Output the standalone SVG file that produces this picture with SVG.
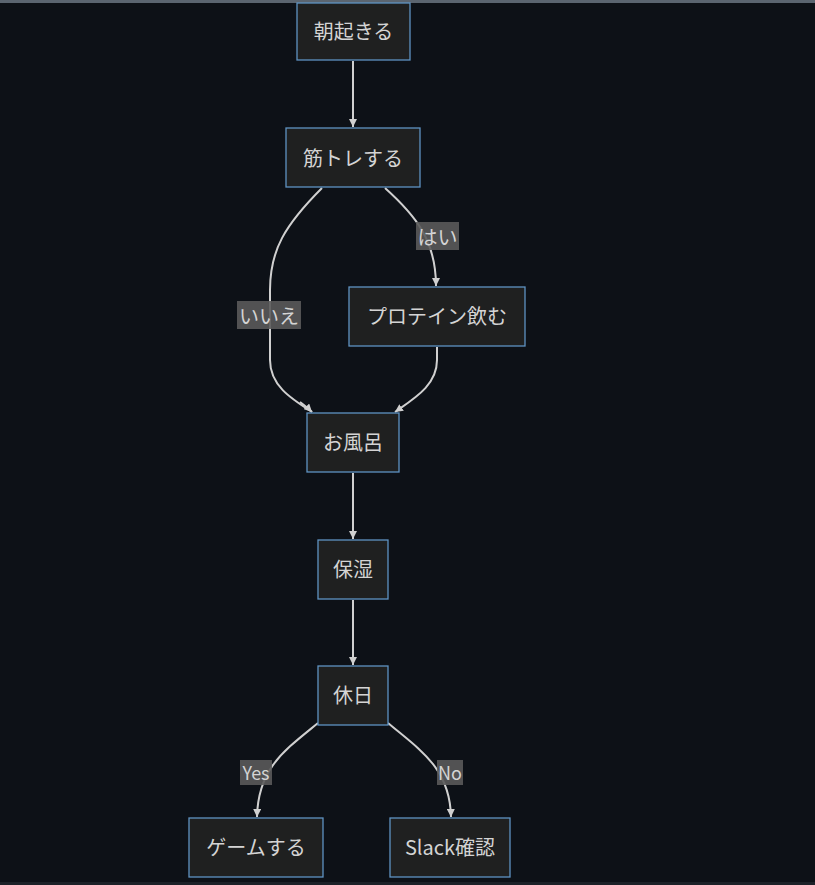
<svg xmlns="http://www.w3.org/2000/svg" width="815" height="885" viewBox="0 0 815 885">
<defs>
<marker id="ah" viewBox="0 0 10 10" refX="10" refY="5" markerWidth="8" markerHeight="8" markerUnits="userSpaceOnUse" orient="auto">
<path d="M0,0 L10,5 L0,10 z" fill="#d0d0d0"/>
</marker>
<style>
.n rect{fill:#1f2020;stroke:#5f93c2;stroke-width:1.3}
text{font-family:"Noto Sans CJK JP","Noto Sans",sans-serif;font-size:20px;fill:#d4d4d4;text-anchor:middle;dominant-baseline:central}
.e path{fill:none;stroke:#d0d0d0;stroke-width:2;marker-end:url(#ah)}
.l rect{fill:#5a5a5a;opacity:0.9}
</style>
</defs>
<rect width="815" height="885" fill="#0d1117"/>
<rect width="815" height="3" fill="#5b6570"/>
<rect y="882" width="815" height="3" fill="#1c2128"/>
<g class="e" id="connectors">
<path d="M353,61 L353,127"/>
<path d="M322,188 C285,225 270,250 270,290 L270,360 C270,385 290,398 312,412" style="marker-end:none"/>
<path d="M300,402 C304,405 308,408 312,412"/>
<path d="M385,188 C415,215 436,240 436,286"/>
<path d="M437,347 L437,360 C437,385 415,398 395,412"/>
<path d="M353,473 L353,539"/>
<path d="M353,600 L353,665"/>
<path d="M318,723 C285,750 258,768 257,817"/>
<path d="M388,723 C420,750 450,768 451,817"/>
</g>
<g class="l" id="labels">
<g><rect x="237" y="301" width="64" height="28"/><text x="269" y="315">いいえ</text></g>
<g><rect x="416" y="222" width="43" height="28"/><text x="437.5" y="236">はい</text></g>
<g><rect x="240" y="760" width="32" height="25"/><text x="256" y="772" style="font-size:18px">Yes</text></g>
<g><rect x="437" y="760" width="26" height="25"/><text x="450" y="772" style="font-size:18px">No</text></g>
</g>
<g class="n" id="n1"><rect x="297" y="3" width="113" height="57"/><text x="353.5" y="30">朝起きる</text></g>
<g class="n" id="n2"><rect x="286" y="128" width="134" height="59"/><text x="353" y="157">筋トレする</text></g>
<g class="n" id="n3"><rect x="349" y="287" width="176" height="59"/><text x="437" y="315">プロテイン飲む</text></g>
<g class="n" id="n4"><rect x="307" y="413" width="92" height="59"/><text x="353" y="441">お風呂</text></g>
<g class="n" id="n5"><rect x="318" y="540" width="70" height="59"/><text x="353" y="568">保湿</text></g>
<g class="n" id="n6"><rect x="318" y="666" width="70" height="59"/><text x="353" y="694">休日</text></g>
<g class="n" id="n7"><rect x="189" y="818" width="134" height="59"/><text x="256" y="846">ゲームする</text></g>
<g class="n" id="n8"><rect x="390" y="818" width="120" height="59"/><text x="450" y="846">Slack確認</text></g>
</svg>
